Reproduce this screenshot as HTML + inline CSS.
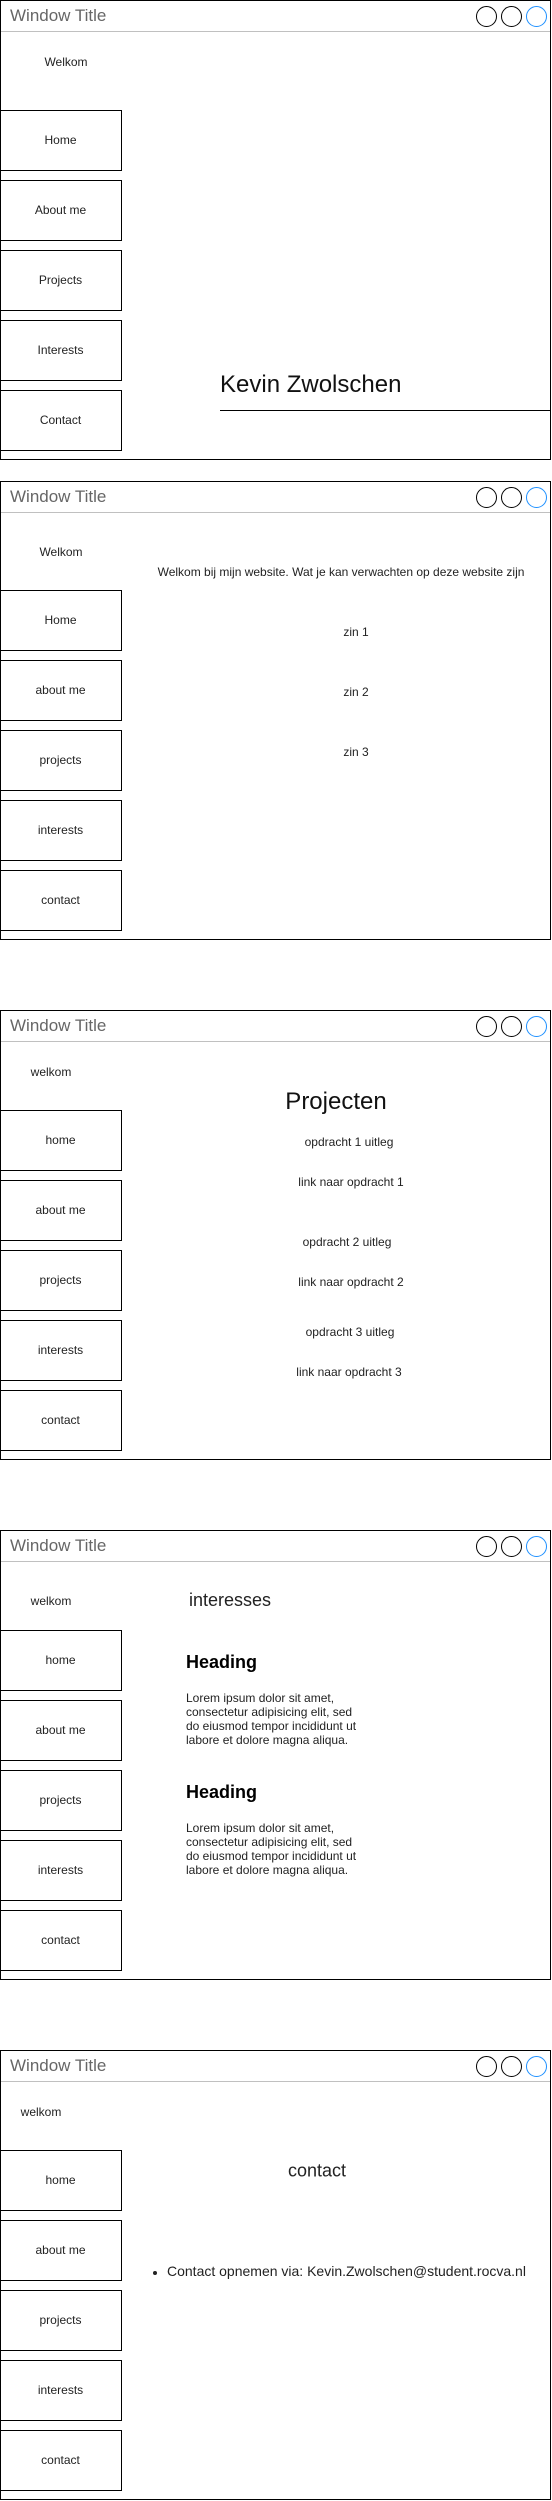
<!DOCTYPE html>
<html><head><meta charset="utf-8"><style>
html,body{margin:0;padding:0;background:#fff;}
body{width:552px;height:2501px;position:relative;overflow:hidden;font-family:"Liberation Sans",Arial,sans-serif;color:#222;}
.win{position:absolute;left:0;width:549px;border:1.5px solid #000;box-sizing:content-box;}
.bar{position:absolute;left:0;right:0;top:0;height:30px;border-bottom:1.5px solid #c0c0c0;}
.title{position:absolute;left:9px;top:5px;font-size:17px;color:#666;}
.c{position:absolute;width:19px;height:19px;border:1.5px solid #000;border-radius:50%;top:5px;}
.c.b{border-color:#1e90ff;}
.nav{position:absolute;left:-1.5px;width:120px;height:59px;border:1.5px solid #000;font-size:12px;text-align:center;line-height:59px;color:#222;}
.t{position:absolute;transform:translate(-50%,-50%);white-space:nowrap;font-size:12px;color:#222;}
.l{position:absolute;white-space:nowrap;}
</style></head><body>

<!-- Window 1 -->
<div class="win" style="top:0;height:458px;">
 <div class="bar"><div class="title">Window Title</div>
  <div class="c" style="left:475px"></div><div class="c" style="left:500px"></div><div class="c b" style="left:525px"></div></div>
 <div class="t" style="left:65px;top:61px;">Welkom</div>
 <div class="nav" style="top:109px">Home</div>
 <div class="nav" style="top:179px">About me</div>
 <div class="nav" style="top:249px">Projects</div>
 <div class="nav" style="top:319px">Interests</div>
 <div class="nav" style="top:389px">Contact</div>
 <div class="l" style="left:219px;top:370px;font-size:24px;color:#111;">Kevin Zwolschen</div>
 <div style="position:absolute;left:219px;right:0;top:409px;border-top:1.5px solid #000;"></div>
</div>

<!-- Window 2 -->
<div class="win" style="top:481px;height:457px;">
 <div class="bar"><div class="title">Window Title</div>
  <div class="c" style="left:475px"></div><div class="c" style="left:500px"></div><div class="c b" style="left:525px"></div></div>
 <div class="t" style="left:60px;top:70px;">Welkom</div>
 <div class="t" style="left:340px;top:90px;">Welkom bij mijn website. Wat je kan verwachten op deze website zijn</div>
 <div class="t" style="left:355px;top:150px;">zin 1</div>
 <div class="t" style="left:355px;top:210px;">zin 2</div>
 <div class="t" style="left:355px;top:270px;">zin 3</div>
 <div class="nav" style="top:108px">Home</div>
 <div class="nav" style="top:178px">about me</div>
 <div class="nav" style="top:248px">projects</div>
 <div class="nav" style="top:318px">interests</div>
 <div class="nav" style="top:388px">contact</div>
</div>

<!-- Window 3 -->
<div class="win" style="top:1010px;height:448px;">
 <div class="bar"><div class="title">Window Title</div>
  <div class="c" style="left:475px"></div><div class="c" style="left:500px"></div><div class="c b" style="left:525px"></div></div>
 <div class="t" style="left:50px;top:61px;">welkom</div>
 <div class="t" style="left:335px;top:91px;font-size:24px;color:#111;">Projecten</div>
 <div class="t" style="left:348px;top:131px;">opdracht 1 uitleg</div>
 <div class="t" style="left:350px;top:171px;">link naar opdracht 1</div>
 <div class="t" style="left:346px;top:231px;">opdracht 2 uitleg</div>
 <div class="t" style="left:350px;top:271px;">link naar opdracht 2</div>
 <div class="t" style="left:349px;top:321px;">opdracht 3 uitleg</div>
 <div class="t" style="left:348px;top:361px;">link naar opdracht 3</div>
 <div class="nav" style="top:99px">home</div>
 <div class="nav" style="top:169px">about me</div>
 <div class="nav" style="top:239px">projects</div>
 <div class="nav" style="top:309px">interests</div>
 <div class="nav" style="top:379px">contact</div>
</div>

<!-- Window 4 -->
<div class="win" style="top:1530px;height:448px;">
 <div class="bar"><div class="title">Window Title</div>
  <div class="c" style="left:475px"></div><div class="c" style="left:500px"></div><div class="c b" style="left:525px"></div></div>
 <div class="t" style="left:50px;top:70px;">welkom</div>
 <div class="l" style="left:188px;top:59px;font-size:18px;color:#222;">interesses</div>
 <div class="l" style="left:185px;top:121px;font-size:18px;font-weight:bold;color:#000;">Heading</div>
 <div class="l" style="left:185px;top:160px;font-size:12px;line-height:14px;color:#222;">Lorem ipsum dolor sit amet,<br>consectetur adipisicing elit, sed<br>do eiusmod tempor incididunt ut<br>labore et dolore magna aliqua.</div>
 <div class="l" style="left:185px;top:251px;font-size:18px;font-weight:bold;color:#000;">Heading</div>
 <div class="l" style="left:185px;top:290px;font-size:12px;line-height:14px;color:#222;">Lorem ipsum dolor sit amet,<br>consectetur adipisicing elit, sed<br>do eiusmod tempor incididunt ut<br>labore et dolore magna aliqua.</div>
 <div class="nav" style="top:99px">home</div>
 <div class="nav" style="top:169px">about me</div>
 <div class="nav" style="top:239px">projects</div>
 <div class="nav" style="top:309px">interests</div>
 <div class="nav" style="top:379px">contact</div>
</div>

<!-- Window 5 -->
<div class="win" style="top:2050px;height:448px;">
 <div class="bar"><div class="title">Window Title</div>
  <div class="c" style="left:475px"></div><div class="c" style="left:500px"></div><div class="c b" style="left:525px"></div></div>
 <div class="t" style="left:40px;top:61px;">welkom</div>
 <div class="t" style="left:316px;top:120px;font-size:18px;color:#222;">contact</div>
 <div style="position:absolute;left:152px;top:220px;width:4px;height:4px;border-radius:50%;background:#222;"></div>
 <div class="l" style="left:166px;top:212px;font-size:14px;color:#222;">Contact opnemen via: Kevin.Zwolschen@student.rocva.nl</div>
 <div class="nav" style="top:99px">home</div>
 <div class="nav" style="top:169px">about me</div>
 <div class="nav" style="top:239px">projects</div>
 <div class="nav" style="top:309px">interests</div>
 <div class="nav" style="top:379px">contact</div>
</div>

</body></html>
